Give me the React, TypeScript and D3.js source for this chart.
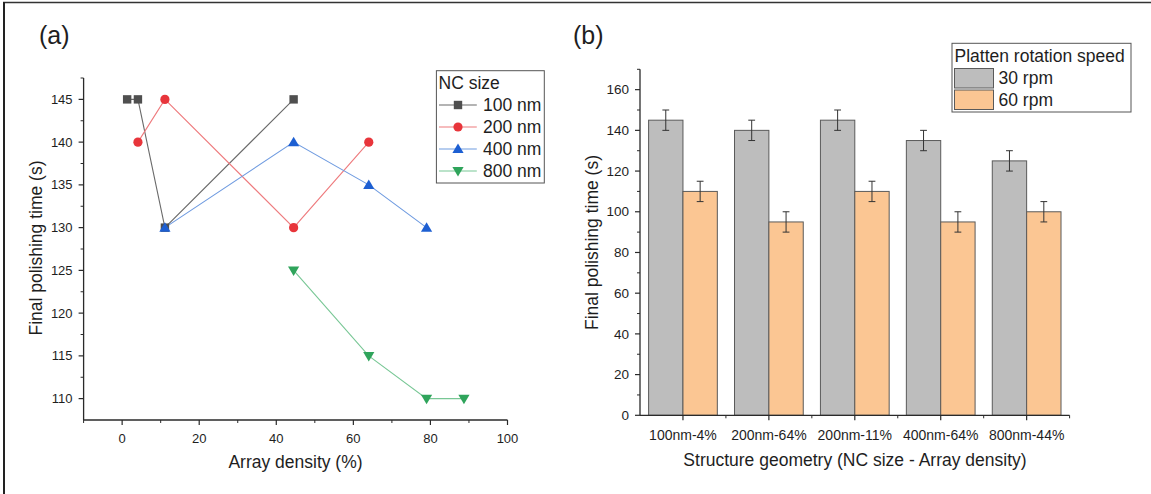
import React from "react";
import * as d3 from "d3";

// Panel (a): final polishing time vs array density for each NC size
const ncSeriesNames = ["100 nm", "200 nm", "400 nm", "800 nm"];
const density100 = [1.3, 4.1, 11.1, 44.5];
const time100 = [145, 145, 130, 145];
const density200 = [4.1, 11.1, 44.5, 64.0];
const time200 = [140, 145, 130, 140];
const density400 = [11.1, 44.5, 64.0, 79.0];
const time400 = [130, 140, 135, 130];
const density800 = [44.5, 64.0, 79.0, 88.7];
const time800 = [125, 115, 110, 110];

const xTicksA = [0, 20, 40, 60, 80, 100];
const yTicksA = [110, 115, 120, 125, 130, 135, 140, 145];

// Panel (b): bars per structure geometry at two platten speeds
const geometries = ["100nm-4%", "200nm-64%", "200nm-11%", "400nm-64%", "800nm-44%"];
const speedNames = ["30 rpm", "60 rpm"];
const time30rpm = [145, 140, 145, 135, 125];
const time60rpm = [110, 95, 110, 95, 100];
const err30rpm = [5, 5, 5, 5, 5];
const err60rpm = [5, 5, 5, 5, 5];
const yTicksB = [0, 20, 40, 60, 80, 100, 120, 140, 160];

const FONT = "'Liberation Sans', Arial, sans-serif";
const AXIS = "#2a2a2a";
const TEXT = "#1e1e1e";

type Marker = "square" | "circle" | "triangle" | "triangleDown";
const seriesStyle: { color: string; line: string; marker: Marker }[] = [
  { color: "#4f4f4f", line: "#6a6a6a", marker: "square" },
  { color: "#e8353b", line: "#ee7a7d", marker: "circle" },
  { color: "#1d5fd2", line: "#6f9be0", marker: "triangle" },
  { color: "#2fa45b", line: "#78c795", marker: "triangleDown" },
];

function MarkerShape({ kind, x, y, color }: { kind: Marker; x: number; y: number; color: string }) {
  if (kind === "square") return <rect x={x - 4.2} y={y - 4.2} width={8.4} height={8.4} fill={color} />;
  if (kind === "circle") return <circle cx={x} cy={y} r={4.6} fill={color} />;
  if (kind === "triangle")
    return <path d={`M${x},${y - 5.5}L${x + 5.6},${y + 4}L${x - 5.6},${y + 4}Z`} fill={color} />;
  return <path d={`M${x},${y + 5.5}L${x + 5.6},${y - 4}L${x - 5.6},${y - 4}Z`} fill={color} />;
}

export default function App() {
  // ---- panel (a) scales
  const ax0 = 83.6, ax1 = 507.5, ay0 = 420, ay1 = 78;
  const xA = d3.scaleLinear().domain([-10, 100]).range([ax0, ax1]);
  const yA = d3.scaleLinear().domain([107.5, 147.5]).range([ay0, ay1]);
  const xMinorA = d3.range(-10, 100, 20);
  const yMinorA = d3.range(112.5, 148, 5);
  const seriesA = [
    { x: density100, y: time100 },
    { x: density200, y: time200 },
    { x: density400, y: time400 },
    { x: density800, y: time800 },
  ];
  const line = d3
    .line<[number, number]>()
    .x((d) => xA(d[0]))
    .y((d) => yA(d[1]));

  // ---- panel (b) scales
  const bx0 = 640, bx1 = 1069.6, by0 = 415.3, by1 = 69.3;
  const xB = d3.scaleBand<string>().domain(geometries).range([bx0, bx1]).paddingInner(0.2).paddingOuter(0.1);
  const xBand = d3.scaleBand<string>().domain(geometries).range([bx0, bx1]).padding(0);
  const sub = d3.scaleBand<string>().domain(speedNames).range([0, xB.bandwidth()]);
  const yB = d3.scaleLinear().domain([0, 170]).range([by0, by1]);
  const yMinorB = d3.range(10, 171, 20);
  const barSeries = [
    { name: speedNames[0], vals: time30rpm, errs: err30rpm, fill: "#bdbdbd" },
    { name: speedNames[1], vals: time60rpm, errs: err60rpm, fill: "#fbc693" },
  ];

  return (
    <svg
      width={1151}
      height={494}
      style={{ position: "absolute", left: 0, top: 0, background: "#fff" }}
      fontFamily={FONT}
    >
      {/* outer frame (top and left edges) */}
      <line x1={3} y1={2.5} x2={1151} y2={2.5} stroke="#333" strokeWidth={1.5} />
      <line x1={4} y1={2} x2={4} y2={494} stroke="#222" strokeWidth={2} />

      {/* ================= panel (a) ================= */}
      <text x={39} y={44} fontSize={25} fill={TEXT}>(a)</text>

      {/* y axis */}
      <line x1={ax0} y1={ay0} x2={ax0} y2={ay1} stroke={AXIS} strokeWidth={1.3} />
      {yTicksA.map((t) => (
        <g key={`ya${t}`}>
          <line x1={ax0 - 5} x2={ax0} y1={yA(t)} y2={yA(t)} stroke={AXIS} strokeWidth={1.2} />
          <text x={ax0 - 11} y={yA(t)} dy="0.35em" textAnchor="end" fontSize={13} fill={TEXT}>
            {t}
          </text>
        </g>
      ))}
      {yMinorA.map((t) => (
        <line key={`yam${t}`} x1={ax0 - 3} x2={ax0} y1={yA(t)} y2={yA(t)} stroke={AXIS} strokeWidth={1} />
      ))}
      {/* x axis */}
      <line x1={ax0} y1={ay0} x2={ax1} y2={ay0} stroke={AXIS} strokeWidth={1.3} />
      {xTicksA.map((t) => (
        <g key={`xa${t}`}>
          <line x1={xA(t)} x2={xA(t)} y1={ay0} y2={ay0 + 5} stroke={AXIS} strokeWidth={1.2} />
          <text x={xA(t)} y={443} textAnchor="middle" fontSize={13} fill={TEXT}>
            {t}
          </text>
        </g>
      ))}
      {xMinorA.map((t) => (
        <line key={`xam${t}`} x1={xA(t)} x2={xA(t)} y1={ay0} y2={ay0 + 3} stroke={AXIS} strokeWidth={1} />
      ))}
      <text x={295.5} y={468} textAnchor="middle" fontSize={17.5} fill={TEXT}>
        Array density (%)
      </text>
      <text
        transform={`translate(42,248) rotate(-90)`}
        textAnchor="middle"
        fontSize={17.5}
        fill={TEXT}
      >
        Final polishing time (s)
      </text>

      {/* series lines then markers */}
      {seriesA.map((s, i) => (
        <path
          key={`la${i}`}
          d={line(s.x.map((v, j) => [v, s.y[j]] as [number, number])) || ""}
          fill="none"
          stroke={seriesStyle[i].line}
          strokeWidth={1.1}
        />
      ))}
      {seriesA.map((s, i) =>
        s.x.map((v, j) => (
          <MarkerShape
            key={`ma${i}-${j}`}
            kind={seriesStyle[i].marker}
            x={xA(v)}
            y={yA(s.y[j])}
            color={seriesStyle[i].color}
          />
        ))
      )}

      {/* legend (a) */}
      <rect x={436.4} y={70.7} width={107.9} height={112.3} fill="#fff" stroke="#555" strokeWidth={1} />
      <text x={438.6} y={89} fontSize={17.5} fill={TEXT}>NC size</text>
      {ncSeriesNames.map((name, i) => {
        const cy = 105 + i * 22;
        return (
          <g key={`lg${i}`}>
            <line x1={439} x2={476.8} y1={cy} y2={cy} stroke={seriesStyle[i].line} strokeWidth={1.1} />
            <MarkerShape kind={seriesStyle[i].marker} x={458} y={cy} color={seriesStyle[i].color} />
            <text x={483} y={cy} dy="0.36em" fontSize={17.5} fill={TEXT}>
              {name}
            </text>
          </g>
        );
      })}

      {/* ================= panel (b) ================= */}
      <text x={573} y={44} fontSize={25} fill={TEXT}>(b)</text>

      {/* bars */}
      {barSeries.map((s) =>
        geometries.map((g, j) => {
          const x = (xB(g) || 0) + (sub(s.name) || 0);
          return (
            <rect
              key={`bar${s.name}${g}`}
              x={x}
              y={yB(s.vals[j])}
              width={sub.bandwidth()}
              height={by0 - yB(s.vals[j])}
              fill={s.fill}
              stroke="#5a5a5a"
              strokeWidth={1}
            />
          );
        })
      )}
      {/* error bars */}
      {barSeries.map((s) =>
        geometries.map((g, j) => {
          const cx = (xB(g) || 0) + (sub(s.name) || 0) + sub.bandwidth() / 2;
          const hi = yB(s.vals[j] + s.errs[j]);
          const lo = yB(s.vals[j] - s.errs[j]);
          return (
            <g key={`err${s.name}${g}`} stroke="#333" strokeWidth={1}>
              <line x1={cx} x2={cx} y1={hi} y2={lo} />
              <line x1={cx - 3.4} x2={cx + 3.4} y1={hi} y2={hi} />
              <line x1={cx - 3.4} x2={cx + 3.4} y1={lo} y2={lo} />
            </g>
          );
        })
      )}

      {/* y axis */}
      <line x1={bx0} y1={by0} x2={bx0} y2={by1} stroke={AXIS} strokeWidth={1.3} />
      {yTicksB.map((t) => (
        <g key={`yb${t}`}>
          <line x1={bx0 - 5} x2={bx0} y1={yB(t)} y2={yB(t)} stroke={AXIS} strokeWidth={1.2} />
          <text x={bx0 - 11} y={yB(t)} dy="0.35em" textAnchor="end" fontSize={13.5} fill={TEXT}>
            {t}
          </text>
        </g>
      ))}
      {yMinorB.map((t) => (
        <line key={`ybm${t}`} x1={bx0 - 3} x2={bx0} y1={yB(t)} y2={yB(t)} stroke={AXIS} strokeWidth={1} />
      ))}
      {/* x axis */}
      <line x1={bx0} y1={by0} x2={bx1} y2={by0} stroke={AXIS} strokeWidth={1.3} />
      {geometries.map((g) => {
        const cx = (xBand(g) || 0) + xBand.bandwidth() / 2;
        return (
          <g key={`xb${g}`}>
            <line x1={cx} x2={cx} y1={by0} y2={by0 + 5} stroke={AXIS} strokeWidth={1.2} />
            <line
              x1={(xBand(g) || 0) + xBand.bandwidth()}
              x2={(xBand(g) || 0) + xBand.bandwidth()}
              y1={by0}
              y2={by0 + 3}
              stroke={AXIS}
              strokeWidth={1}
            />
            <text x={cx} y={440} textAnchor="middle" fontSize={14} fill={TEXT}>
              {g}
            </text>
          </g>
        );
      })}
      <text x={855} y={466} textAnchor="middle" fontSize={17.5} fill={TEXT}>
        Structure geometry (NC size - Array density)
      </text>
      <text
        transform={`translate(598,242.5) rotate(-90)`}
        textAnchor="middle"
        fontSize={17.5}
        fill={TEXT}
      >
        Final polishing time (s)
      </text>

      {/* legend (b) */}
      <rect x={952} y={43.3} width={179} height={68.7} fill="#fff" stroke="#555" strokeWidth={1} />
      <text x={954.5} y={62} fontSize={17.5} fill={TEXT}>Platten rotation speed</text>
      {barSeries.map((s, i) => (
        <g key={`lgb${i}`}>
          <rect x={954.5} y={68.5 + i * 21.5} width={39} height={19.5} fill={s.fill} stroke="#5a5a5a" strokeWidth={1} />
          <text x={998.5} y={78 + i * 21.5} dy="0.36em" fontSize={17.5} fill={TEXT}>
            {s.name}
          </text>
        </g>
      ))}
    </svg>
  );
}
